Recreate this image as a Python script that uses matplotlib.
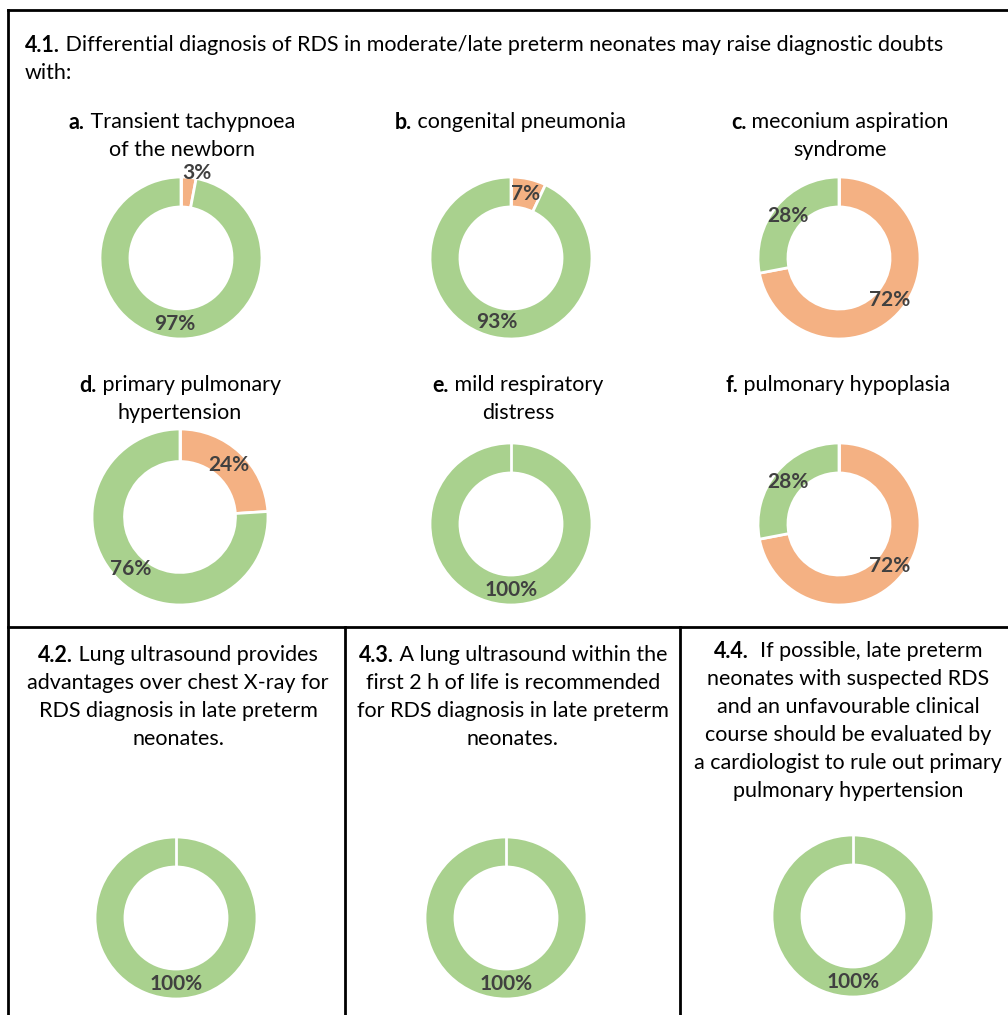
import matplotlib
matplotlib.use("Agg")
import matplotlib.pyplot as plt
import numpy as np

plt.rcParams['font.family'] = ['Lato', 'DejaVu Sans']

W, H = 1008, 1015

# data: share of answers per question, order = [orange, green]
panel_ids = ['a', 'b', 'c', 'd', 'e', 'f', '4.2', '4.3', '4.4']
orange_pct = [3, 7, 72, 24, 0, 72, 0, 0, 0]
green_pct = [97, 93, 28, 76, 100, 28, 100, 100, 100]

colors = ['#f4b183', '#a9d18e']
label_color = '#404040'

# subtitle texts: list of lines, each line = (bold part, normal part)
subtitles = {
    'a': [('a.', ' Transient tachypnoea'), ('', 'of the newborn')],
    'b': [('b.', ' congenital pneumonia')],
    'c': [('c.', ' meconium aspiration'), ('', 'syndrome')],
    'd': [('d.', ' primary pulmonary'), ('', 'hypertension')],
    'e': [('e.', ' mild respiratory'), ('', 'distress')],
    'f': [('f.', ' pulmonary hypoplasia')],
    '4.2': [('4.2.', ' Lung ultrasound provides'), ('', 'advantages over chest X-ray for'),
            ('', 'RDS diagnosis in late preterm'), ('', 'neonates.')],
    '4.3': [('4.3.', ' A lung ultrasound within the'), ('', 'first 2 h of life is recommended'),
            ('', 'for RDS diagnosis in late preterm'), ('', 'neonates.')],
    '4.4': [('4.4.', '  If possible, late preterm'), ('', 'neonates with suspected RDS'),
            ('', 'and an unfavourable clinical'), ('', 'course should be evaluated by'),
            ('', 'a cardiologist to rule out primary'), ('', 'pulmonary hypertension')],
}
main_title = [('4.1.', ' Differential diagnosis of RDS in moderate/late preterm neonates may raise diagnostic doubts'),
              ('', 'with:')]

# layout in pixels: donut centre x, centre y, radius, title centre x, first title line y
layout = {
    'a': (181, 258, 81, 182, 122),
    'b': (511, 258, 81, 510, 122),
    'c': (839, 258, 81, 840, 122),
    'd': (180, 517, 88, 180, 385),
    'e': (511, 524, 81, 518, 385),
    'f': (839, 524, 81, 838, 385),
    '4.2': (176, 918, 81, 178, 655),
    '4.3': (506, 918, 81, 513, 655),
    '4.4': (853, 916, 81, 848, 651),
}

fig = plt.figure(figsize=(W / 100, H / 100), dpi=100)
bg = fig.add_axes([0, 0, 1, 1])
bg.set_xlim(0, W)
bg.set_ylim(H, 0)
bg.axis('off')

renderer = fig.canvas.get_renderer()
FS = 15.5


def draw_line(x, y, bold, normal, ha='center', size=FS):
    t1 = bg.text(0, y, bold, fontsize=size, fontweight='bold', va='center', color='black')
    t2 = bg.text(0, y, normal, fontsize=size, va='center', color='black')
    w1 = t1.get_window_extent(renderer).width if bold else 0
    w2 = t2.get_window_extent(renderer).width
    x0 = x - (w1 + w2) / 2 if ha == 'center' else x
    t1.set_x(x0)
    t2.set_x(x0 + w1)


# frame lines
lw = 2
bg.plot([8, W], [10, 10], color='black', lw=lw)
bg.plot([8, 8], [10, H], color='black', lw=lw)
bg.plot([8, W], [627, 627], color='black', lw=lw)
bg.plot([345, 345], [627, H], color='black', lw=lw)
bg.plot([680, 680], [627, H], color='black', lw=lw)

# main title
for i, (b, n) in enumerate(main_title):
    draw_line(25, 45 + 28 * i, b, n, ha='left')

for pid, o, g in zip(panel_ids, orange_pct, green_pct):
    cx, cy, r, tx, ty = layout[pid]
    for i, (b, n) in enumerate(subtitles[pid]):
        draw_line(tx, ty + 28 * i, b, n)

    ax = fig.add_axes([(cx - r) / W, 1 - (cy + r) / H, 2 * r / W, 2 * r / H])
    vals = [o, g]
    wedges, _, autotexts = ax.pie(
        vals, colors=colors, startangle=90, counterclock=False,
        autopct=lambda p: f'{p:.0f}%' if p > 0.5 else '', pctdistance=0.815,
        wedgeprops=dict(width=0.37, edgecolor='white', linewidth=2),
        textprops=dict(fontsize=15, fontweight='bold', color=label_color))
    # separator at the start of the ring (also for the empty 0% slice)
    ax.plot([0, 0], [0.6, 1.0], color='white', lw=2, zorder=1.5)
    for t in autotexts:
        t.set_zorder(3)
    ax.set_xlim(-1, 1)
    ax.set_ylim(-1, 1)
    ax.set_aspect('auto')
    ax.axis('off')
    # tiny slice: label sits just outside the ring
    for w, t, v in zip(wedges, autotexts, vals):
        if 0 < v < 5:
            ang = np.deg2rad((w.theta1 + w.theta2) / 2)
            t.set_position((1.07 * np.cos(ang) + 0.1, 1.05 * np.sin(ang)))
            t.set_clip_on(False)

fig.savefig('out.png', dpi=100)
